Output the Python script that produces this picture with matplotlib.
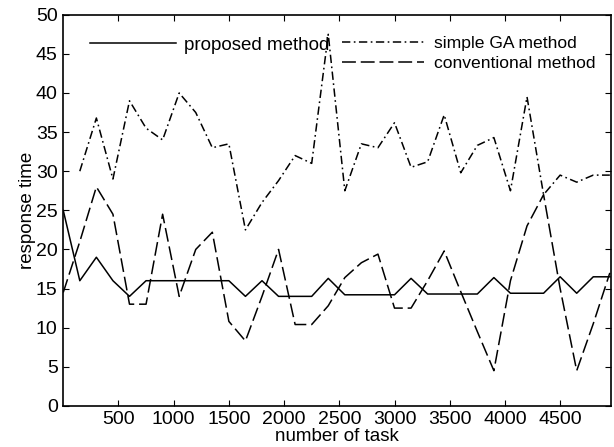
import matplotlib
matplotlib.use("Agg")
import matplotlib.pyplot as plt

plt.rcParams['font.family'] = ['Liberation Sans', 'DejaVu Sans']
plt.rcParams['lines.scale_dashes'] = False

# number of tasks (x positions of the samples)
tasks = [0, 150, 300, 450, 600, 750, 900, 1050, 1200, 1350, 1500, 1650,
         1800, 1950, 2100, 2250, 2400, 2550, 2700, 2850, 3000, 3150, 3300,
         3450, 3600, 3750, 3900, 4050, 4200, 4350, 4500, 4650, 4800, 4950]

proposed = [25, 16, 19, 16, 14, 16, 16, 16, 16, 16, 16, 14, 16, 14, 14, 14,
            16.3, 14.2, 14.2, 14.2, 14.2, 16.3, 14.3, 14.3, 14.3, 14.3, 16.4,
            14.4, 14.4, 14.4, 16.5, 14.4, 16.5, 16.5]

# simple GA curve starts at the second sample
simple_ga = [30, 36.8, 29, 39, 35.5, 34, 40, 37.5, 33, 33.5, 22.5, 26, 28.8,
             32, 31, 47.5, 27.5, 33.5, 33, 36.2, 30.5, 31.2, 37.2, 29.8, 33.3,
             34.3, 27.5, 39.5, 27, 29.5, 28.6, 29.5, 29.5]

conventional = [14.5, 21, 28, 24.5, 13, 13, 24.5, 14, 20, 22.2, 10.8, 8.3,
                14, 20, 10.4, 10.4, 12.8, 16.4, 18.3, 19.4, 12.5, 12.5, 16,
                19.8, 14.6, 9.5, 4.5, 16, 23, 27, 15, 4.5, 10.5, 17]

fig = plt.figure(figsize=(6.14, 4.47), dpi=100)
ax = fig.add_axes([0.103, 0.092, 0.892, 0.875])

l1, = ax.plot(tasks, proposed, color='black', lw=1.1, label='proposed method')
l2, = ax.plot(tasks[1:], simple_ga, color='black', lw=1.1,
              dashes=(6, 2.5, 1.2, 2.5), label='simple GA method')
l3, = ax.plot(tasks, conventional, color='black', lw=1.1,
              dashes=(10, 3.5), label='conventional method')

ax.set_xlim(0, 4960)
ax.set_ylim(0, 50)
ax.set_xticks([500, 1000, 1500, 2000, 2500, 3000, 3500, 4000, 4500])
ax.set_yticks(range(0, 51, 5))
ax.tick_params(direction='in', top=True, right=True, length=4,
               labelsize=14, pad=4)
for s in ax.spines.values():
    s.set_linewidth(1.2)

ax.set_xlabel('number of task', fontsize=13.5, labelpad=0)
ax.set_ylabel('response time', fontsize=13.5, labelpad=0)

leg1 = ax.legend(handles=[l1], loc='upper left', bbox_to_anchor=(0.025, 0.978),
                 frameon=False, fontsize=13.5, handlelength=4.6,
                 handletextpad=0.4, borderaxespad=0.3)
ax.add_artist(leg1)
ax.legend(handles=[l2, l3], loc='upper right', bbox_to_anchor=(0.995, 0.978),
          frameon=False, fontsize=12.6, handlelength=4.7,
          handletextpad=0.6, labelspacing=0.3, borderaxespad=0.3)

fig.savefig('out.png', dpi=100)
